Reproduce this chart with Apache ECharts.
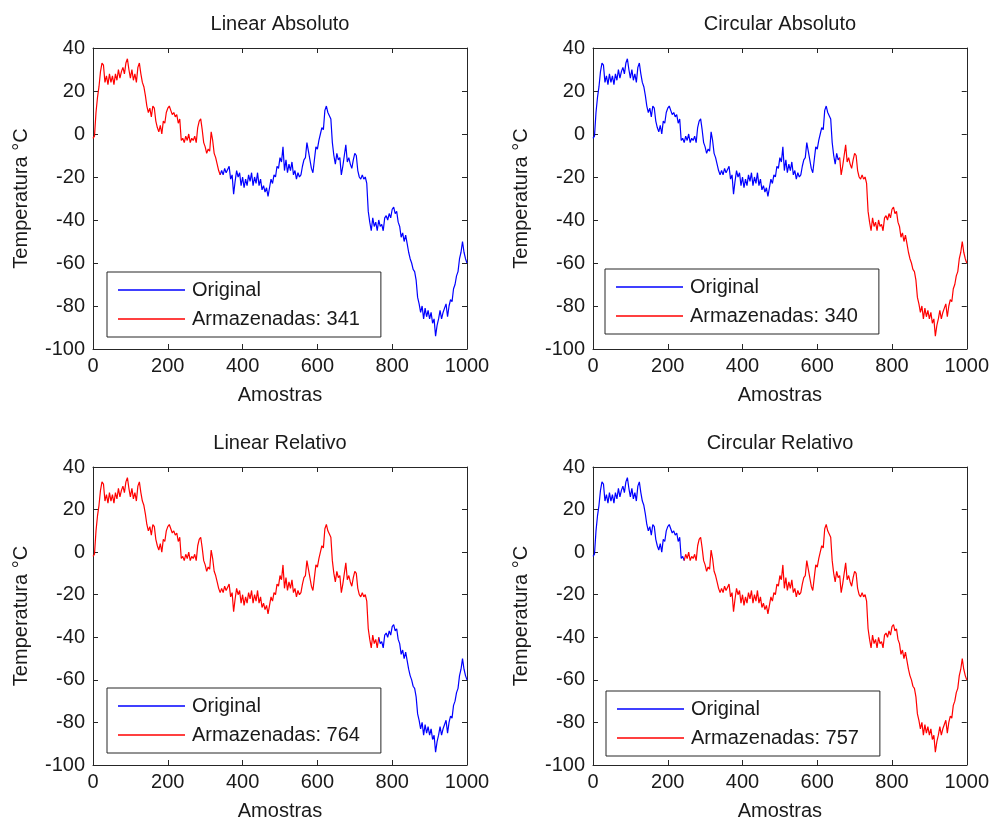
<!DOCTYPE html>
<html>
<head>
<meta charset="utf-8">
<script src="https://cdn.jsdelivr.net/npm/echarts@6/dist/echarts.min.js"></script>
<style>
html, body { margin: 0; padding: 0; background: #fff; }
#chart { width: 992px; height: 822px; }
</style>
</head>
<body>
<div id="chart"></div>
<script>
// amostras a cada 4 pontos (°C)
var passo = 4;
var temperatura = [
  -2, -1, 10, 17, 22, 29, 33, 32, 24, 27,
  23, 28, 24, 27, 23, 28, 25, 30, 26, 29,
  31, 28, 33, 35, 30, 26, 30, 25, 28, 24,
  31, 33, 28, 24, 22, 18, 13, 10, 12, 8,
  13, 12, 6, 3, 1, 4, 0, 6, 5, 10,
  12, 13, 11, 9, 10, 8, 9, 5, 7, -3,
  -2, -4, -1, -3, 0, -4, -2, -3, -1, -4,
  3, 6, 7, 2, -4, -6, -9, -7, -8, 1,
  -3, -9, -11, -14, -17, -19, -17, -19, -16, -18,
  -18, -15, -21, -19, -28, -22, -17, -20, -18, -24,
  -20, -25, -21, -24, -19, -22, -18, -24, -20, -23,
  -18, -24, -21, -26, -24, -27, -25, -29, -25, -21,
  -23, -19, -20, -15, -16, -11, -13, -6, -17, -12,
  -18, -14, -17, -13, -19, -17, -21, -18, -20, -19,
  -15, -12, -11, -4, -8, -8, -16, -18, -12, -6,
  -7, -3, 0, 3, 2, 11, 13, 10, 10, 7,
  -4, -10, -14, -9, -12, -11, -19, -15, -15, -5,
  -13, -11, -14, -16, -12, -9, -10, -17, -20, -21,
  -19, -21, -20, -23, -36, -41, -45, -39, -43, -41,
  -45, -40, -43, -42, -45, -39, -38, -40, -37, -39,
  -35, -34, -37, -36, -41, -43, -48, -46, -50, -47,
  -51, -55, -58, -60, -63, -64, -68, -76, -79, -83,
  -80, -86, -81, -85, -82, -86, -83, -88, -86, -94,
  -89, -86, -82, -86, -83, -81, -79, -85, -80, -77,
  -78, -72, -70, -66, -64, -58, -55, -50, -55, -58,
  -60
];

var titulos = ['Linear Absoluto', 'Circular Absoluto', 'Linear Relativo', 'Circular Relativo'];
var armazenadas = [341, 340, 764, 757];
var trechoInicio = [0, 660, 0, 243];
var trechoFim = [340, 1000, 764, 1000];

var fonte = 'Liberation Sans, Arial, Helvetica, sans-serif';
var corTexto = '#1a1a1a';
var corEixo = '#262626';

var paineis = [
  { left: 93, top: 48, legLeft: 107, legTop: 272 },
  { left: 593, top: 48, legLeft: 605, legTop: 269 },
  { left: 93, top: 467, legLeft: 107, legTop: 688 },
  { left: 593, top: 467, legLeft: 606, legTop: 691 }
];
var largura = 374, altura = 301;

var pontos = temperatura.map(function (v, k) { return [k * passo, v]; });

var grid = [], xAxis = [], yAxis = [], series = [], legend = [], title = [];

function eixo(extra) {
  var base = {
    axisLine: { show: true, onZero: false, lineStyle: { color: corEixo, width: 1 } },
    axisTick: { show: true, inside: true, length: 5, lineStyle: { color: corEixo, width: 1 } },
    axisLabel: { show: false },
    splitLine: { show: false }
  };
  for (var k in extra) base[k] = extra[k];
  return base;
}

function rotulo(v) { return String(v); }

paineis.forEach(function (p, i) {
  grid.push({ left: p.left, top: p.top, width: largura, height: altura, show: false });

  title.push({
    text: titulos[i],
    left: p.left + largura / 2,
    top: p.top - 34,
    textAlign: 'center',
    padding: 0,
    textStyle: { fontSize: 20, fontWeight: 'normal', color: corTexto, fontFamily: fonte }
  });

  xAxis.push(eixo({
    type: 'value', gridIndex: i, position: 'bottom', min: 0, max: 1000, interval: 200,
    axisLabel: { show: true, fontSize: 20, color: corTexto, fontFamily: fonte, margin: 7, formatter: rotulo },
    name: 'Amostras', nameLocation: 'middle', nameGap: 36,
    nameTextStyle: { fontSize: 20, color: corTexto, fontFamily: fonte }
  }));
  xAxis.push(eixo({ type: 'value', gridIndex: i, position: 'top', min: 0, max: 1000, interval: 200 }));

  yAxis.push(eixo({
    type: 'value', gridIndex: i, position: 'left', min: -100, max: 40, interval: 20,
    axisLabel: { show: true, fontSize: 20, color: corTexto, fontFamily: fonte, margin: 8, formatter: rotulo },
    name: 'Temperatura °C', nameLocation: 'middle', nameGap: 62,
    nameTextStyle: { fontSize: 20, color: corTexto, fontFamily: fonte }
  }));
  yAxis.push(eixo({ type: 'value', gridIndex: i, position: 'right', min: -100, max: 40, interval: 20 }));

  // trecho armazenado (vermelho) e o resto do sinal original (azul), sem sobrepor
  var vermelho = pontos.filter(function (pt) { return pt[0] >= trechoInicio[i] && pt[0] <= trechoFim[i]; });
  var primeiro = vermelho[0][0], ultimo = vermelho[vermelho.length - 1][0];
  var azul = pontos.map(function (pt) {
    return (pt[0] > primeiro && pt[0] < ultimo) ? [pt[0], null] : pt;
  });

  var nomeVermelho = 'Armazenadas: ' + armazenadas[i];
  series.push({
    type: 'line', name: 'Original', xAxisIndex: i * 2, yAxisIndex: i * 2,
    data: azul, symbol: 'none', animation: false, connectNulls: false,
    itemStyle: { color: '#0000ff' }, lineStyle: { color: '#0000ff', width: 1.2 }
  });
  series.push({
    type: 'line', name: nomeVermelho, xAxisIndex: i * 2, yAxisIndex: i * 2,
    data: vermelho, symbol: 'none', animation: false,
    itemStyle: { color: '#ff0000' }, lineStyle: { color: '#ff0000', width: 1.2 }
  });

  legend.push({
    data: ['Original', nomeVermelho],
    orient: 'vertical', left: p.legLeft, top: p.legTop,
    icon: 'rect', itemWidth: 67, itemHeight: 1.5, itemGap: 9,
    padding: [8, 21, 8, 11],
    borderColor: corEixo, borderWidth: 1, backgroundColor: '#fff',
    selectedMode: false,
    textStyle: { fontSize: 20, color: corTexto, fontFamily: fonte, padding: [0, 0, 0, 2] }
  });
});

var chart = echarts.init(document.getElementById('chart'));
chart.setOption({
  backgroundColor: '#fff',
  animation: false,
  title: title,
  grid: grid,
  xAxis: xAxis,
  yAxis: yAxis,
  legend: legend,
  series: series
});
</script>
</body>
</html>
